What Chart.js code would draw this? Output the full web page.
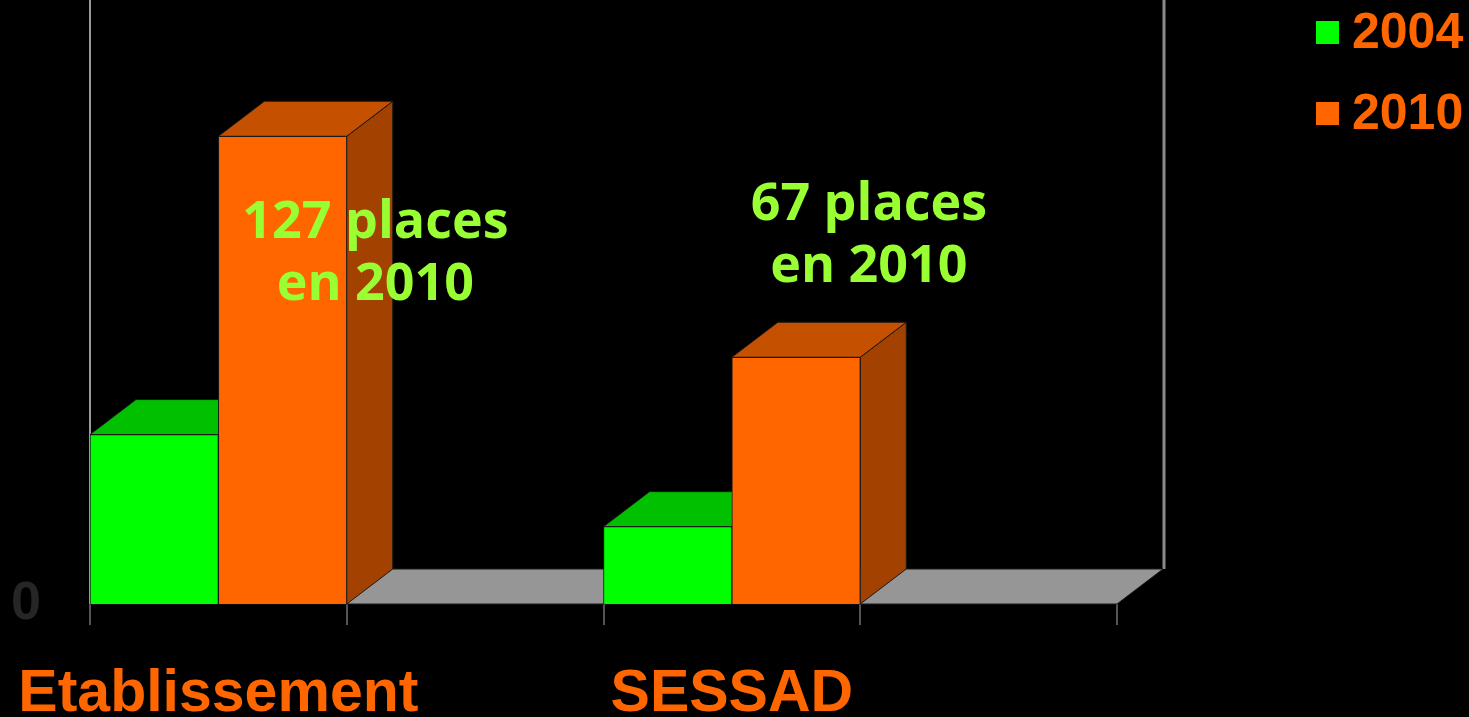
<!DOCTYPE html>
<html>
<head>
<meta charset="utf-8">
<script src="https://cdn.jsdelivr.net/npm/chart.js@4/dist/chart.umd.min.js"></script>
<style>
    html, body { margin: 0; padding: 0; background: #000; }
    #wrap { width: 1469px; height: 717px; position: relative; }
</style>
</head>
<body>
<div id="wrap"><canvas id="chart"></canvas></div>
<script>
// categories (two empty slots, as in the original slide)
const categories = ['Etablissement', '', 'SESSAD', ''];
const seriesNames = ['2004', '2010'];
const values2004 = [46, null, 21, null];
const values2010 = [127, null, 67, null];
const notes = [
    ['127 places', 'en 2010'],
    [],
    ['67 places', 'en 2010'],
    []
];

// couleurs: face avant, dessus, côté
const colors = {
    '2004': { front: '#00ff00', top: '#00c000', side: '#009a00' },
    '2010': { front: '#ff6600', top: '#c45000', side: '#a34100' }
};
const DX = 46, DY = -35;

function poly(ctx, pts, fill) {
    ctx.beginPath();
    ctx.moveTo(pts[0][0], pts[0][1]);
    for (let i = 1; i < pts.length; i++) ctx.lineTo(pts[i][0], pts[i][1]);
    ctx.closePath();
    ctx.fillStyle = fill;
    ctx.fill();
    ctx.strokeStyle = '#1a1a1a';
    ctx.lineWidth = 1;
    ctx.stroke();
}

const scene3d = {
    id: 'scene3d',
    beforeDatasetsDraw(chart) {
        const ctx = chart.ctx;
        const a = chart.chartArea;
        ctx.save();
        // murs
        ctx.strokeStyle = '#9a9a9a';
        ctx.lineWidth = 2;
        ctx.beginPath();
        ctx.moveTo(a.left, 0); ctx.lineTo(a.left, a.bottom);
        ctx.stroke();
        ctx.lineWidth = 3;
        ctx.strokeStyle = '#8a8a8a';
        ctx.beginPath();
        ctx.moveTo(a.right + DX + 1, 0); ctx.lineTo(a.right + DX + 1, a.bottom + DY);
        ctx.stroke();
        // sol
        poly(ctx, [[a.left, a.bottom], [a.right, a.bottom], [a.right + DX, a.bottom + DY], [a.left + DX, a.bottom + DY]], '#969696');
        // faces dessus / côté
        chart.data.datasets.forEach((ds, di) => {
            const c = colors[ds.label];
            chart.getDatasetMeta(di).data.forEach((bar, i) => {
                if (ds.data[i] == null) return;
                const l = bar.x - bar.width / 2, r = bar.x + bar.width / 2;
                const t = bar.y, b = bar.base;
                poly(ctx, [[r, t], [r + DX, t + DY], [r + DX, b + DY], [r, b]], c.side);
                poly(ctx, [[l, t], [r, t], [r + DX, t + DY], [l + DX, t + DY]], c.top);
            });
        });
        ctx.restore();
    },
    afterDatasetsDraw(chart) {
        const ctx = chart.ctx;
        const xs = chart.scales.x;
        ctx.save();
        // annotations
        ctx.fillStyle = '#99ff33';
        ctx.font = 'bold 52px "Open Sans"';
        ctx.textAlign = 'center';
        ctx.textBaseline = 'middle';
        const shift = [157, 0, 137, 0];
        const top = [223, 0, 205, 0];
        notes.forEach((lines, i) => {
            lines.forEach((txt, k) => {
                ctx.fillText(txt, xs.getPixelForValue(i) + shift[i], top[i] + k * 62);
            });
        });
        // légende
        ctx.font = 'bold 50px "Liberation Sans", Arial';
        ctx.textAlign = 'left';
        chart.data.datasets.forEach((ds, di) => {
            const y = 32 + di * 81;
            ctx.fillStyle = colors[ds.label].front;
            ctx.fillRect(1316, y - 11, 23, 23);
            ctx.fillStyle = '#ff6600';
            ctx.fillText(ds.label, 1352, y + 2);
        });
        ctx.restore();
    }
};

new Chart(document.getElementById('chart'), {
    type: 'bar',
    data: {
        labels: categories,
        datasets: [
            { label: seriesNames[0], data: values2004, backgroundColor: colors['2004'].front, borderColor: '#1a1a1a', borderWidth: 1 },
            { label: seriesNames[1], data: values2010, backgroundColor: colors['2010'].front, borderColor: '#1a1a1a', borderWidth: 1 }
        ]
    },
    options: {
        responsive: true,
        maintainAspectRatio: false,
        animation: false,
        layout: { padding: { top: 0, right: 352, left: 0, bottom: 0 } },
        datasets: { bar: { categoryPercentage: 1, barPercentage: 1 } },
        plugins: { legend: { display: false }, tooltip: { enabled: false } },
        scales: {
            x: {
                offset: true,
                afterFit: s => { s.height = 113; s.paddingLeft = 0; s.paddingRight = 0; },
                border: { display: false },
                grid: { offset: true, drawOnChartArea: false, tickLength: 21, color: '#555', lineWidth: 2 },
                ticks: {
                    autoSkip: false, maxRotation: 0, minRotation: 0, padding: 34,
                    color: '#ff6600',
                    font: { family: '"Liberation Sans", Arial', size: 59, weight: 'bold' }
                }
            },
            y: {
                min: 0, max: 164,
                afterFit: s => { s.width = 90; s.paddingTop = 0; s.paddingBottom = 0; },
                border: { display: false },
                grid: { display: false },
                ticks: {
                    padding: 41, stepSize: 164,
                    color: '#262626',
                    font: { family: '"Liberation Sans", Arial', size: 54, weight: 'bold' },
                    callback: v => (v === 0 ? '0' : '')
                }
            }
        }
    },
    plugins: [scene3d]
});
</script>
</body>
</html>
